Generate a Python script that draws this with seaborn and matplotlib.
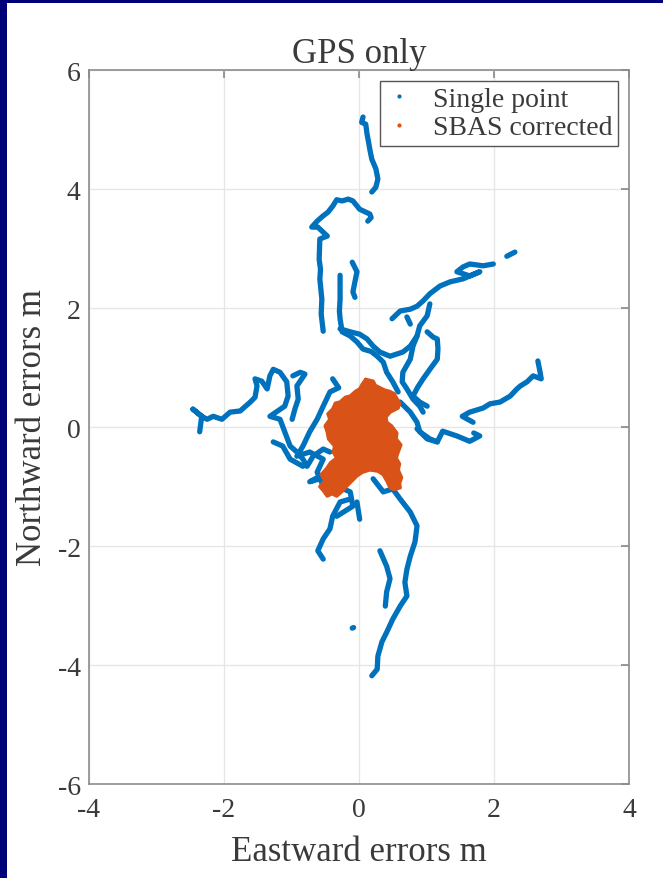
import matplotlib
matplotlib.use("Agg")
from matplotlib import pyplot as plt
from matplotlib.lines import Line2D
import pandas as pd
import seaborn as sns

# position errors (metres, east / north)
north_tip = [(0.06, 5.21), (0.04, 5.12), (0.10, 5.09), (0.12, 4.92), (0.14, 4.80), (0.16, 4.67),
             (0.19, 4.50), (0.25, 4.34), (0.28, 4.17), (0.25, 4.03), (0.19, 3.95)]
north_loop = [(0.13, 3.46), (0.18, 3.52), (0.16, 3.58), (0.01, 3.66), (-0.09, 3.80), (-0.16, 3.83),
              (-0.25, 3.80), (-0.33, 3.82), (-0.39, 3.71), (-0.46, 3.61), (-0.53, 3.55), (-0.62, 3.46),
              (-0.70, 3.36), (-0.61, 3.36), (-0.47, 3.21), (-0.58, 3.16), (-0.59, 2.82), (-0.57, 2.65),
              (-0.58, 2.49), (-0.55, 2.15), (-0.56, 1.90), (-0.53, 1.61)]
north_mid = [(-0.28, 2.55), (-0.28, 2.35), (-0.28, 2.15), (-0.29, 1.95), (-0.28, 1.82), (-0.25, 1.60),
             (-0.13, 1.53), (-0.03, 1.43), (0.06, 1.31), (0.18, 1.27), (0.27, 1.19), (0.36, 1.09),
             (0.41, 0.92), (0.50, 0.76), (0.58, 0.59)]
north_dash = [(-0.10, 2.77), (-0.03, 2.61), (-0.06, 2.44), (-0.09, 2.27), (-0.06, 2.18)]
ne_dash = [(2.19, 2.87), (2.31, 2.94)]
ne_arm = [(1.99, 2.74), (1.84, 2.71), (1.64, 2.74), (1.54, 2.69), (1.45, 2.61), (1.64, 2.54),
          (1.79, 2.61), (1.54, 2.49), (1.35, 2.44), (1.20, 2.37), (1.05, 2.24), (0.95, 2.12),
          (0.86, 2.03), (0.76, 1.98), (0.61, 1.95), (0.49, 1.82)]
ne_stub = [(0.71, 1.85), (0.76, 1.73)]
ne_branch = [(1.05, 2.07), (1.01, 1.87), (0.90, 1.70), (0.86, 1.53), (0.76, 1.36), (0.65, 1.26),
             (0.46, 1.19), (0.31, 1.26), (0.21, 1.36), (0.12, 1.48), (0.01, 1.56), (-0.13, 1.60),
             (-0.28, 1.65)]
ne_down = [(0.86, 1.53), (0.80, 1.36), (0.76, 1.14), (0.65, 0.92), (0.64, 0.76), (0.71, 0.64),
           (0.80, 0.47), (0.90, 0.35), (0.95, 0.25)]
ne_loop = [(1.01, 1.60), (1.10, 1.51), (1.16, 1.48), (1.17, 1.31), (1.16, 1.14), (1.05, 0.97),
           (0.95, 0.81), (0.87, 0.67), (0.80, 0.52), (0.90, 0.42), (1.01, 0.35)]
east_arm = [(2.65, 1.11), (2.68, 0.94), (2.70, 0.81), (2.58, 0.86), (2.49, 0.76), (2.39, 0.69),
            (2.34, 0.64), (2.24, 0.52), (2.09, 0.42), (1.94, 0.39), (1.84, 0.32), (1.64, 0.25),
            (1.53, 0.18), (1.69, 0.08)]
east_low = [(0.86, -0.03), (1.01, -0.20), (1.16, -0.25), (1.24, -0.07), (1.45, -0.15), (1.64, -0.24),
            (1.79, -0.15), (1.70, -0.10)]
east_near = [(0.61, 0.42), (0.76, 0.25), (0.86, 0.08), (0.90, -0.08), (1.05, -0.20), (1.16, -0.25)]
west_arm = [(-2.36, -0.08), (-2.33, 0.18), (-2.46, 0.30), (-2.33, 0.18), (-2.25, 0.13), (-2.16, 0.18),
            (-2.03, 0.13), (-1.91, 0.25), (-1.76, 0.27), (-1.61, 0.42), (-1.54, 0.50), (-1.51, 0.69),
            (-1.54, 0.81), (-1.44, 0.77), (-1.36, 0.64), (-1.32, 0.86), (-1.27, 0.97), (-1.17, 0.92),
            (-1.07, 0.76), (-1.05, 0.52), (-1.10, 0.35), (-1.32, 0.18), (-1.17, 0.13), (-1.10, -0.08),
            (-1.02, -0.32), (-0.92, -0.42), (-0.83, -0.54), (-0.77, -0.66), (-0.68, -0.49),
            (-0.53, -0.37), (-0.43, -0.42)]
west_branch = [(-0.98, 0.86), (-0.87, 0.92), (-0.80, 0.89), (-0.92, 0.69), (-0.90, 0.47),
               (-0.95, 0.30), (-0.99, 0.13)]
west_low = [(-1.27, -0.25), (-1.13, -0.32), (-1.02, -0.54), (-0.83, -0.66)]
blob_left = [(-0.39, 0.81), (-0.30, 0.66), (-0.43, 0.59), (-0.53, 0.35), (-0.62, 0.13), (-0.73, -0.08),
             (-0.83, -0.32), (-0.92, -0.49), (-0.73, -0.42), (-0.53, -0.54), (-0.62, -0.76),
             (-0.53, -0.99)]
blob_sw = [(-0.47, -0.76), (-0.73, -0.92), (-0.58, -0.87), (-0.33, -0.99), (-0.13, -1.09),
           (-0.09, -1.33), (-0.33, -1.50)]
south_west = [(-0.13, -1.21), (-0.28, -1.26), (-0.39, -1.50), (-0.43, -1.71), (-0.53, -1.88),
              (-0.61, -2.08), (-0.53, -2.22)]
south_stub = [(-0.03, -1.26), (0.01, -1.55)]
south_east = [(0.21, -0.87), (0.36, -1.09), (0.50, -1.04), (0.61, -1.21), (0.76, -1.43), (0.86, -1.66),
              (0.83, -1.93), (0.76, -2.17), (0.71, -2.39), (0.68, -2.61), (0.71, -2.84), (0.61, -3.01),
              (0.50, -3.23), (0.41, -3.45), (0.34, -3.61), (0.28, -3.85), (0.27, -4.07), (0.19, -4.18)]
south_inner = [(0.31, -2.08), (0.41, -2.34), (0.46, -2.55), (0.41, -2.77), (0.39, -3.01)]
south_dot = [(-0.10, -3.38), (-0.08, -3.37)]

single_point = [north_tip, north_loop, north_mid, north_dash, ne_dash, ne_arm, ne_stub, ne_branch,
                ne_down, ne_loop, east_arm, east_low, east_near, west_arm, west_branch, west_low,
                blob_left, blob_sw, south_west, south_stub, south_east, south_inner, south_dot]

# outline of the SBAS corrected cloud
sbas_cloud = [(0.10, 0.80), (0.21, 0.77), (0.24, 0.70), (0.31, 0.66), (0.38, 0.62), (0.45, 0.60),
              (0.52, 0.56), (0.56, 0.48), (0.60, 0.40), (0.58, 0.32), (0.46, 0.25), (0.40, 0.17),
              (0.41, 0.08), (0.48, 0.02), (0.56, -0.10), (0.55, -0.20), (0.62, -0.30), (0.58, -0.42),
              (0.55, -0.52), (0.60, -0.62), (0.58, -0.72), (0.63, -0.85), (0.60, -0.95), (0.61, -1.02),
              (0.52, -1.05), (0.46, -1.02), (0.42, -0.92), (0.36, -0.80), (0.28, -0.74), (0.16, -0.72),
              (0.05, -0.76), (-0.03, -0.82), (-0.10, -0.90), (-0.18, -0.99), (-0.25, -1.08),
              (-0.33, -1.16), (-0.40, -1.12), (-0.47, -1.16), (-0.52, -1.08), (-0.58, -1.00),
              (-0.50, -0.90), (-0.56, -0.80), (-0.48, -0.70), (-0.42, -0.60), (-0.33, -0.52),
              (-0.38, -0.42), (-0.36, -0.32), (-0.45, -0.20), (-0.47, -0.08), (-0.50, 0.02),
              (-0.43, 0.13), (-0.46, 0.22), (-0.39, 0.30), (-0.35, 0.40), (-0.28, 0.42), (-0.20, 0.50),
              (-0.13, 0.52), (-0.05, 0.60), (0.01, 0.64), (0.05, 0.72), (0.10, 0.80)]

x_ticks = [-4, -2, 0, 2, 4]
y_ticks = [-6, -4, -2, 0, 2, 4, 6]

blue = '#0072BD'
orange = '#D95319'
txt = '#3a3a3a'

rows = []
for i, strand in enumerate(single_point):
    for e, n in strand:
        rows.append({'east': e, 'north': n, 'strand': i})
df = pd.DataFrame(rows)
cloud = pd.DataFrame(sbas_cloud, columns=['east', 'north'])

sns.set_theme(style='white')
plt.rcParams['font.family'] = ['Liberation Serif', 'DejaVu Serif']
plt.rcParams['axes.unicode_minus'] = False

fig = plt.figure(figsize=(6.63, 8.79), dpi=100)
fig.patch.set_facecolor('#000078')
fig.add_artist(plt.Rectangle((7 / 663, 0), 1, 875 / 879, transform=fig.transFigure,
                             facecolor='white', edgecolor='none', zorder=-10))
ax = fig.add_axes([0.1342, 0.1069, 0.8145, 0.8123])

sns.lineplot(data=df, x='east', y='north', units='strand', estimator=None, sort=False,
             color=blue, lw=3.8, solid_joinstyle='round', solid_capstyle='round',
             legend=False, ax=ax)
ax.fill(cloud['east'], cloud['north'], color=orange, zorder=3)
sns.lineplot(data=cloud, x='east', y='north', sort=False, estimator=None, color=orange,
             lw=2.5, legend=False, ax=ax, zorder=3)

ax.set_xlim(-4, 4)
ax.set_ylim(-6, 6)
ax.set_xticks(x_ticks)
ax.set_yticks(y_ticks)
ax.grid(True, color='#e6e6e6', lw=1)
for s in ax.spines.values():
    s.set_color('#8c8c8c')
    s.set_linewidth(1.2)
ax.tick_params(direction='in', top=True, right=True, length=6, color='#8c8c8c',
               labelsize=20, labelcolor=txt)
ax.tick_params(axis='x', pad=9)
ax.tick_params(axis='y', pad=6)

ax.set_title('GPS only', fontsize=25, color=txt, pad=6)
ax.set_xlabel('Eastward errors m', fontsize=25, color=txt, labelpad=10)
ax.set_ylabel('Northward errors m', fontsize=25, color=txt, labelpad=6)

handles = [Line2D([], [], marker='.', ls='none', color=blue, markersize=4),
           Line2D([], [], marker='.', ls='none', color=orange, markersize=4)]
leg = ax.legend(handles, ['Single point', 'SBAS corrected'], loc='upper right', fontsize=20,
                frameon=True, fancybox=False, edgecolor='#555555', framealpha=1,
                labelspacing=0.1, borderpad=0.2, handlelength=1.0, handletextpad=0.7,
                borderaxespad=0.4)
leg.get_frame().set_linewidth(1.0)
for t in leg.get_texts():
    t.set_color(txt)

fig.savefig('out.png', dpi=100, facecolor=fig.get_facecolor())
